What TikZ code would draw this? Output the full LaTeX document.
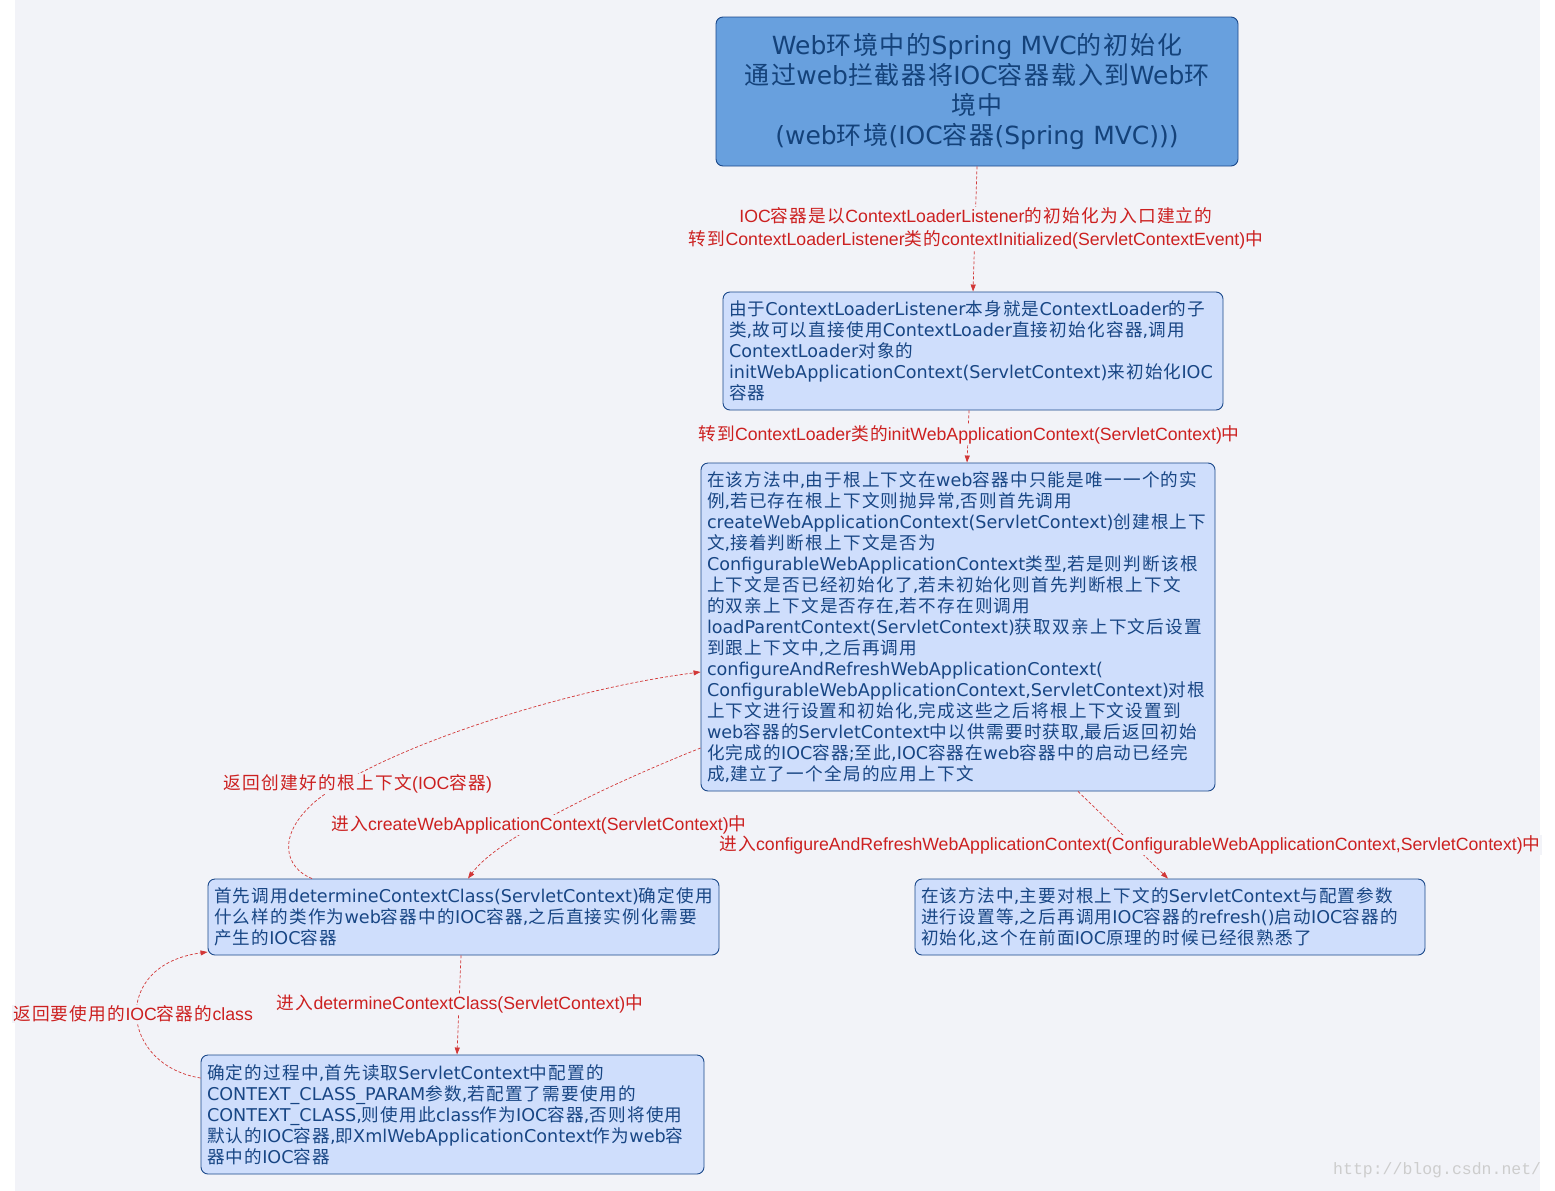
\documentclass[tikz,border=0pt]{standalone}
\usepackage{fontspec}
\setmainfont{DejaVu Sans}
\newfontfamily\cjkfont[LetterSpace=7]{Noto Sans CJK SC}
\newfontfamily\lblfont{Liberation Sans}
\newfontfamily\wmfont{Liberation Mono}
\usetikzlibrary{arrows.meta}
\XeTeXinterchartokenstate=1
\newXeTeXintercharclass\CJKcls
\makeatletter
\count@="4E00
\loop
  \XeTeXcharclass\count@=\CJKcls
  \ifnum\count@<"9FFF \advance\count@\@ne
\repeat
\makeatother
\XeTeXinterchartoks 0 \CJKcls = {\begingroup\cjkfont}
\XeTeXinterchartoks 4095 \CJKcls = {\begingroup\cjkfont}
\XeTeXinterchartoks \CJKcls 0 = {\endgroup}
\XeTeXinterchartoks \CJKcls 4095 = {\endgroup}
\definecolor{bgc}{RGB}{242,243,248}
\definecolor{topfill}{RGB}{104,160,222}
\definecolor{boxfill}{RGB}{207,222,252}
\definecolor{boxborder}{RGB}{26,72,138}
\definecolor{boxtext}{RGB}{24,70,132}
\definecolor{toptext}{RGB}{20,66,122}
\definecolor{lblred}{RGB}{204,32,32}
\definecolor{linered}{RGB}{210,55,55}
\definecolor{wmgrey}{RGB}{205,205,205}
\tikzset{
  box/.style={draw=boxborder, fill=boxfill, rounded corners=7pt, line width=0.9pt,
    text=boxtext, font=\fontsize{17.6}{21}\selectfont, align=left, inner xsep=6pt, inner ysep=0pt},
  topbox/.style={box, fill=topfill, text=toptext, align=center, font=\fontsize{25}{30}\selectfont},
  lbl/.style={fill=bgc, text=lblred, font=\lblfont\fontsize{17.7}{23}\selectfont, inner sep=1pt, align=center},
  conn/.style={draw=linered, dash pattern=on 3pt off 2pt, line width=0.7pt,
    -{Triangle[length=7pt,width=5pt]}},
}
\begin{document}
\begin{tikzpicture}[x=1pt,y=-1pt]
\useasboundingbox (0,0) rectangle (1555,1191);
\fill[white] (0,0) rectangle (1555,1191);
\fill[bgc] (15,0) rectangle (1540,1191);

\node[topbox, text width=510pt, minimum height=149pt] (b1) at (977,91.5)
 {Web环境中的Spring MVC的初始化\\通过web拦截器将IOC容器载入到Web环\\境中\\(web环境(IOC容器(Spring MVC)))};

\node[box, text width=488pt, minimum height=118pt] (b2) at (973,351)
 {由于ContextLoaderListener本身就是ContextLoader的子\\类,故可以直接使用ContextLoader直接初始化容器,调用\\ContextLoader对象的\\initWebApplicationContext(ServletContext)来初始化IOC\\容器};

\node[box, text width=502pt, minimum height=328pt] (b3) at (958,627)
 {在该方法中,由于根上下文在web容器中只能是唯一一个的实\\例,若已存在根上下文则抛异常,否则首先调用\\createWebApplicationContext(ServletContext)创建根上下\\文,接着判断根上下文是否为\\ConfigurableWebApplicationContext类型,若是则判断该根\\上下文是否已经初始化了,若未初始化则首先判断根上下文\\的双亲上下文是否存在,若不存在则调用\\loadParentContext(ServletContext)获取双亲上下文后设置\\到跟上下文中,之后再调用\\configureAndRefreshWebApplicationContext(\\ConfigurableWebApplicationContext,ServletContext)对根\\上下文进行设置和初始化,完成这些之后将根上下文设置到\\web容器的ServletContext中以供需要时获取,最后返回初始\\化完成的IOC容器;至此,IOC容器在web容器中的启动已经完\\成,建立了一个全局的应用上下文};

\node[box, text width=499pt, minimum height=76pt] (b4) at (463.5,917)
 {首先调用determineContextClass(ServletContext)确定使用\\什么样的类作为web容器中的IOC容器,之后直接实例化需要\\产生的IOC容器};

\node[box, text width=498pt, minimum height=76pt] (b5) at (1170,917)
 {在该方法中,主要对根上下文的ServletContext与配置参数\\进行设置等,之后再调用IOC容器的refresh()启动IOC容器的\\初始化,这个在前面IOC原理的时候已经很熟悉了};

\node[box, text width=491pt, minimum height=119pt] (b6) at (452.5,1114.5)
 {确定的过程中,首先读取ServletContext中配置的\\CONTEXT\_CLASS\_PARAM参数,若配置了需要使用的\\CONTEXT\_CLASS,则使用此class作为IOC容器,否则将使用\\默认的IOC容器,即XmlWebApplicationContext作为web容\\器中的IOC容器};

% connectors
\draw[conn] (b1.south) -- (b2.north);
\draw[conn] ([xshift=-4pt]b2.south) -- ([xshift=9pt]b3.north);
\draw[conn] ([yshift=-121pt]b3.west) .. controls (620,780) and (500,835) .. ([xshift=4.5pt]b4.north);
\draw[conn] ([xshift=-151.5pt]b4.north) .. controls (285,868) and (275,835) .. (317,800)
  .. controls (380,750) and (560,690) .. ([yshift=-45pt]b3.west);
\draw[conn] ([xshift=120pt]b3.south) -- ([xshift=-2pt]b5.north);
\draw[conn] ([xshift=-2.5pt]b4.south) -- ([xshift=4.5pt]b6.north);
\draw[conn] ([yshift=36.5pt]b6.west) .. controls (120,1065) and (110,965) .. ([yshift=-35pt]b4.west);

% labels
\node[lbl] (l1) at (976,228.5) {IOC容器是以ContextLoaderListener的初始化为入口建立的\\转到ContextLoaderListener类的contextInitialized(ServletContextEvent)中};
\node[lbl] (l2) at (969,435) {转到ContextLoader类的initWebApplicationContext(ServletContext)中};
\node[lbl] (l3) at (358,784) {返回创建好的根上下文(IOC容器)};
\node[lbl] (l4) at (539,825) {进入createWebApplicationContext(ServletContext)中};
\node[lbl] (l5) at (1130,845) {进入configureAndRefreshWebApplicationContext(ConfigurableWebApplicationContext,ServletContext)中};
\node[lbl] (l6) at (460,1004) {进入determineContextClass(ServletContext)中};
\node[lbl] (l7) at (133,1014) {返回要使用的IOC容器的class};

\node[font=\wmfont\fontsize{16.5}{18}\selectfont, text=wmgrey, anchor=west, inner sep=0pt] (wm) at (1333,1170) {http://blog.csdn.net/};
\end{tikzpicture}
\end{document}
